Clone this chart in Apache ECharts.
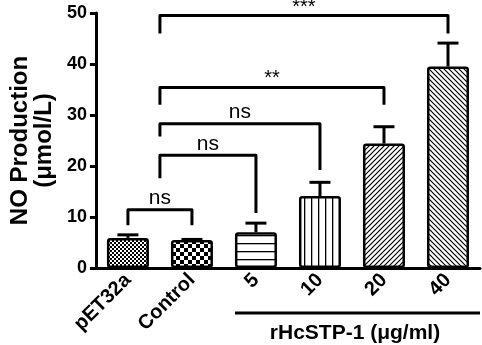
<!DOCTYPE html>
<html>
<head>
<meta charset="utf-8">
<script src="https://cdn.jsdelivr.net/npm/echarts@6/dist/echarts.min.js"></script>
<style>
  html, body { margin: 0; padding: 0; background: #fff; }
  #ec { width: 482px; height: 345px; }
</style>
</head>
<body>
<div id="ec"></div>
<script>
var categories = ["pET32a", "Control", "5", "10", "20", "40"];
var means = [5.9, 5.5, 7.0, 14.1, 24.4, 39.5];
var errors = [0.6, 0.1, 1.8, 2.7, 3.3, 4.6];
var yTicks = [0, 10, 20, 30, 40, 50];

// significance brackets: from / to category index, top height, end heights, label
var bracketFrom = [0, 0.5, 0.5, 0.5, 0.5];
var bracketTo = [1, 2, 3, 4, 5];
var bracketTop = [11.4, 22.1, 28.3, 35.4, 49.5];
var bracketLeftEnd = [8.4, 17.6, 25.8, 32.0, 46.0];
var bracketRightEnd = [8.4, 10.8, 19.2, 32.0, 46.0];
var bracketLabels = ["ns", "ns", "ns", "**", "***"];

var FONT = "'Liberation Sans', Arial, sans-serif";

function makePattern(kind) {
  var c = document.createElement("canvas");
  var ctx;
  if (kind === "fineCheck") {
    c.width = 4; c.height = 4; ctx = c.getContext("2d");
    ctx.fillStyle = "#fff"; ctx.fillRect(0, 0, 4, 4);
    ctx.fillStyle = "#000"; ctx.fillRect(0, 0, 2, 2); ctx.fillRect(2, 2, 2, 2);
  } else if (kind === "check") {
    c.width = 8; c.height = 8; ctx = c.getContext("2d");
    ctx.fillStyle = "#fff"; ctx.fillRect(0, 0, 8, 8);
    ctx.fillStyle = "#000"; ctx.fillRect(0, 0, 4, 4); ctx.fillRect(4, 4, 4, 4);
  } else if (kind === "hline") {
    c.width = 8; c.height = 8; ctx = c.getContext("2d");
    ctx.fillStyle = "#fff"; ctx.fillRect(0, 0, 8, 8);
    ctx.fillStyle = "#000"; ctx.fillRect(0, 3, 8, 1.3);
  } else if (kind === "vline") {
    c.width = 7; c.height = 7; ctx = c.getContext("2d");
    ctx.fillStyle = "#fff"; ctx.fillRect(0, 0, 7, 7);
    ctx.fillStyle = "#000"; ctx.fillRect(3, 0, 1.3, 7);
  } else {
    var s = 5;
    c.width = s; c.height = s; ctx = c.getContext("2d");
    ctx.fillStyle = "#fff"; ctx.fillRect(0, 0, s, s);
    ctx.strokeStyle = "#000"; ctx.lineWidth = 1.2;
    ctx.beginPath();
    if (kind === "diagUp") {
      ctx.moveTo(-1, s + 1); ctx.lineTo(s + 1, -1);
      ctx.moveTo(-1, 1); ctx.lineTo(1, -1);
      ctx.moveTo(s - 1, s + 1); ctx.lineTo(s + 1, s - 1);
    } else {
      ctx.moveTo(-1, -1); ctx.lineTo(s + 1, s + 1);
      ctx.moveTo(s - 1, -1); ctx.lineTo(s + 1, 1);
      ctx.moveTo(-1, s - 1); ctx.lineTo(1, s + 1);
    }
    ctx.stroke();
  }
  return { image: c, repeat: "repeat" };
}

var patterns = ["fineCheck", "check", "hline", "vline", "diagUp", "diagDown"];

var myChart = echarts.init(document.getElementById("ec"));
myChart.setOption({
  animation: false,
  grid: { left: 93, right: 2, top: 13, bottom: 77 },
  xAxis: {
    type: "category",
    data: categories,
    axisLine: { lineStyle: { color: "#000", width: 3 } },
    axisTick: { alignWithLabel: true, length: 6, lineStyle: { color: "#000", width: 3 } },
    axisLabel: {
      rotate: 45, margin: 9, color: "#000",
      fontFamily: FONT, fontWeight: "bold", fontSize: 20
    }
  },
  yAxis: {
    type: "value",
    min: 0, max: 50, interval: 10,
    name: "NO Production\n(μmol/L)",
    nameLocation: "middle",
    nameRotate: 90,
    nameGap: 38,
    nameTextStyle: {
      color: "#000", fontFamily: FONT, fontWeight: "bold",
      fontSize: 24, lineHeight: 24
    },
    splitLine: { show: false },
    axisLine: { show: true, lineStyle: { color: "#000", width: 3 } },
    axisTick: { show: true, length: 6, lineStyle: { color: "#000", width: 3 } },
    axisLabel: {
      margin: 9, color: "#000", fontFamily: FONT, fontWeight: "bold", fontSize: 18,
      formatter: function (v) { return yTicks.indexOf(v) >= 0 ? String(v) : ""; }
    }
  },
  series: [
    {
      type: "bar",
      barWidth: 42,
      data: means.map(function (v, i) {
        return {
          value: v,
          itemStyle: {
            color: makePattern(patterns[i]),
            borderColor: "#000", borderWidth: 2.5, borderRadius: 2
          }
        };
      }),
      z: 2
    },
    {
      // error bars (upper only)
      type: "custom",
      data: means.map(function (v, i) { return [i, v, v + errors[i]]; }),
      renderItem: function (params, api) {
        var base = api.coord([api.value(0), api.value(1)]);
        var top = api.coord([api.value(0), api.value(2)]);
        var hw = 10.5;
        var style = { stroke: "#000", lineWidth: 3, fill: null };
        return {
          type: "group",
          children: [
            { type: "line", shape: { x1: base[0], y1: base[1], x2: top[0], y2: top[1] }, style: style },
            { type: "line", shape: { x1: top[0] - hw, y1: top[1], x2: top[0] + hw, y2: top[1] }, style: style }
          ]
        };
      },
      z: 1
    },
    {
      // significance brackets
      type: "custom",
      clip: false,
      data: bracketTo.map(function (t, i) { return [t, bracketTop[i]]; }),
      renderItem: function (params, api) {
        var i = params.dataIndex;
        var f = bracketFrom[i];
        var fa = api.coord([Math.floor(f), 0]);
        var fb = api.coord([Math.ceil(f), 0]);
        var x1 = fa[0] + (fb[0] - fa[0]) * (f - Math.floor(f));
        var x2 = api.coord([bracketTo[i], 0])[0];
        var yTop = api.coord([bracketTo[i], bracketTop[i]])[1];
        var yL = api.coord([bracketTo[i], bracketLeftEnd[i]])[1];
        var yR = api.coord([bracketTo[i], bracketRightEnd[i]])[1];
        var isStar = bracketLabels[i].indexOf("*") >= 0;
        return {
          type: "group",
          children: [
            {
              type: "polyline",
              shape: { points: [[x1, yL], [x1, yTop], [x2, yTop], [x2, yR]] },
              style: { stroke: "#000", lineWidth: 3, fill: null, lineJoin: "round" }
            },
            {
              type: "text",
              style: {
                x: (x1 + x2) / 2, y: isStar ? yTop + 1.5 : yTop - 1,
                text: bracketLabels[i],
                align: "center", verticalAlign: "bottom",
                fill: "#000", font: (isStar ? "20px " : "21px ") + FONT
              }
            }
          ]
        };
      },
      z: 3
    }
  ],
  graphic: [
    {
      type: "line",
      shape: { x1: 235, y1: 313, x2: 480, y2: 313 },
      style: { stroke: "#000", lineWidth: 3 }
    },
    {
      type: "text",
      x: 355, y: 333,
      style: {
        text: "rHcSTP-1 (μg/ml)",
        align: "center", verticalAlign: "middle",
        fill: "#000", font: "bold 21px " + FONT
      }
    }
  ]
});
</script>
</body>
</html>
